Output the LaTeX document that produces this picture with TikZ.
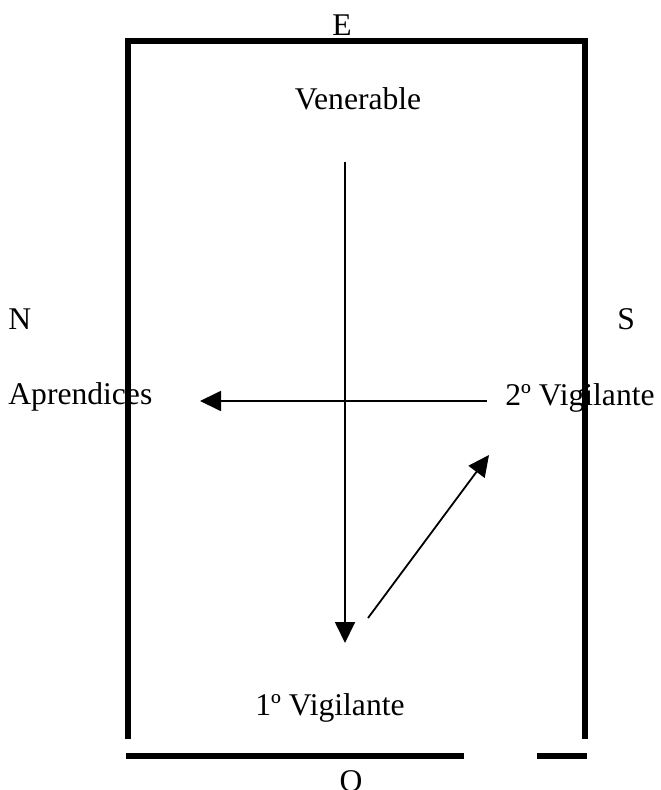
\documentclass[tikz,border=0pt]{standalone}
\usepackage{fontspec}
\setmainfont{Liberation Serif}
\usetikzlibrary{arrows.meta}
\begin{document}
\begin{tikzpicture}[x=0.5pt,y=-0.5pt,
  wall/.style={line width=2.6pt,line join=miter},
  flow/.style={line width=0.9pt,-{Triangle[length=10.5pt,width=10pt]}},
  lbl/.style={inner sep=0pt,font=\fontsize{15.8pt}{18pt}\selectfont}]
\useasboundingbox (0,0) rectangle (660,790);
% walls
\draw[wall] (128,739) -- (128,41) -- (585,41) -- (585,739);
\draw[wall] (126,756) -- (464,756);
\draw[wall] (537,756) -- (587,756);
% labels
\node[lbl,anchor=base] (e) at (342,36) {E};
\node[lbl,anchor=base] (ven) at (358,110) {Venerable};
\node[lbl,anchor=base west] (n) at (8,329) {N};
\node[lbl,anchor=base west] (s) at (617,329) {S};
\node[lbl,anchor=base west] (apr) at (8,404) {Aprendices};
\node[lbl,anchor=base west] (vig2) at (505,405) {2º Vigilante};
\node[lbl,anchor=base west] (vig1) at (255,715) {1º Vigilante};
\node[lbl,anchor=base] (o) at (351,791) {O};
% connector end points
\coordinate (venOut) at (345,162);
\coordinate (vig1In) at (345,643);
\coordinate (vig1Out) at (368,618);
\coordinate (vig2In) at (489,455);
\coordinate (vig2Out) at (487,401);
\coordinate (aprIn) at (200,401);
\draw[flow] (venOut) -- (vig1In);
\draw[flow] (vig1Out) -- (vig2In);
\draw[flow] (vig2Out) -- (aprIn);
\end{tikzpicture}
\end{document}
